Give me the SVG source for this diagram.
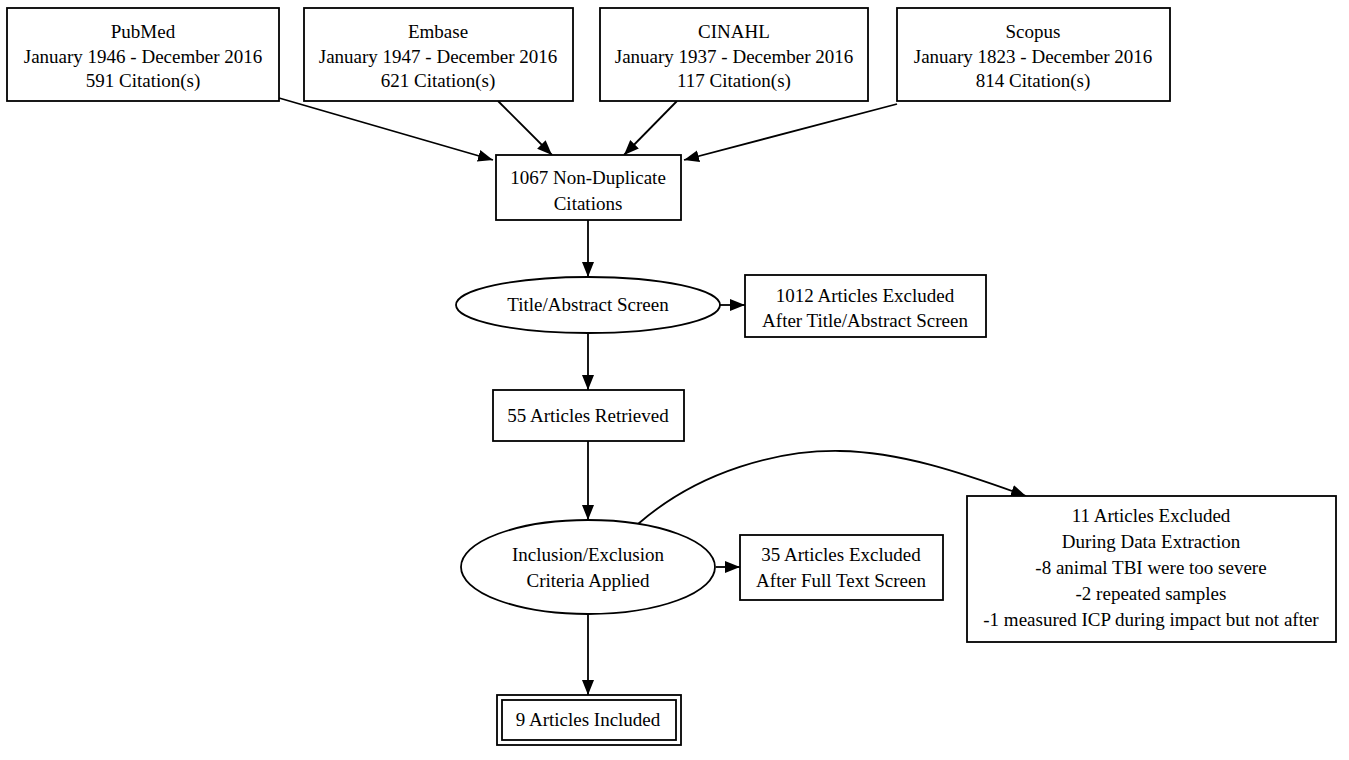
<svg xmlns="http://www.w3.org/2000/svg" width="1349" height="760" viewBox="0 0 1349 760">
<style>
.n{fill:#fff;stroke:#000;stroke-width:1.8}
text{font-family:"Liberation Serif","Times New Roman",serif;font-size:19px;fill:#000;text-anchor:middle}
.e{fill:none;stroke:#000;stroke-width:1.8}
</style>
<defs>
<marker id="a" markerUnits="userSpaceOnUse" markerWidth="16" markerHeight="14" refX="15" refY="6" orient="auto">
<path d="M0,0 L15,6 L0,12 Z" fill="#000"/>
</marker>
</defs>
<rect width="1349" height="760" fill="#fff"/>
<g id="edges">
<path class="e" d="M279,98 L493,160" marker-end="url(#a)"/>
<path class="e" d="M498,101 L552,155" marker-end="url(#a)"/>
<path class="e" d="M677,101 L624,155" marker-end="url(#a)"/>
<path class="e" d="M897,104 L684,160" marker-end="url(#a)"/>
<path class="e" d="M588,220 L588,277" marker-end="url(#a)"/>
<path class="e" d="M720,305 L745,305" marker-end="url(#a)"/>
<path class="e" d="M588,333 L588,390" marker-end="url(#a)"/>
<path class="e" d="M588,441 L588,520" marker-end="url(#a)"/>
<path class="e" d="M716,567 L740,567" marker-end="url(#a)"/>
<path class="e" d="M638,524 C700,470 780,450 840,451 C900,452 960,472 1026,496" marker-end="url(#a)"/>
<path class="e" d="M588,614 L588,695" marker-end="url(#a)"/>
</g>
<g id="pubmed">
<rect class="n" x="7" y="8" width="272" height="93"/>
<text x="143" y="38">PubMed</text>
<text x="143" y="63">January 1946 - December 2016</text>
<text x="143" y="87">591 Citation(s)</text>
</g>
<g id="embase">
<rect class="n" x="304" y="8" width="269" height="93"/>
<text x="438" y="38">Embase</text>
<text x="438" y="63">January 1947 - December 2016</text>
<text x="438" y="87">621 Citation(s)</text>
</g>
<g id="cinahl">
<rect class="n" x="600" y="8" width="268" height="93"/>
<text x="734" y="38">CINAHL</text>
<text x="734" y="63">January 1937 - December 2016</text>
<text x="734" y="87">117 Citation(s)</text>
</g>
<g id="scopus">
<rect class="n" x="897" y="8" width="273" height="93"/>
<text x="1033" y="38">Scopus</text>
<text x="1033" y="63">January 1823 - December 2016</text>
<text x="1033" y="87">814 Citation(s)</text>
</g>
<g id="nondup">
<rect class="n" x="496" y="155" width="185" height="65"/>
<text x="588" y="184">1067 Non-Duplicate</text>
<text x="588" y="210">Citations</text>
</g>
<g id="titleabs">
<ellipse class="n" cx="588" cy="305" rx="132" ry="28"/>
<text x="588" y="311">Title/Abstract Screen</text>
</g>
<g id="excl1012">
<rect class="n" x="745" y="275" width="241" height="62"/>
<text x="865" y="302">1012 Articles Excluded</text>
<text x="865" y="327">After Title/Abstract Screen</text>
</g>
<g id="retrieved">
<rect class="n" x="493" y="390" width="191" height="51"/>
<text x="588" y="422">55 Articles Retrieved</text>
</g>
<g id="criteria">
<ellipse class="n" cx="588" cy="567" rx="127" ry="47"/>
<text x="588" y="561">Inclusion/Exclusion</text>
<text x="588" y="587">Criteria Applied</text>
</g>
<g id="excl35">
<rect class="n" x="740" y="535" width="203" height="65"/>
<text x="841" y="561">35 Articles Excluded</text>
<text x="841" y="587">After Full Text Screen</text>
</g>
<g id="excl11">
<rect class="n" x="967" y="496" width="369" height="146"/>
<text x="1151" y="522">11 Articles Excluded</text>
<text x="1151" y="548">During Data Extraction</text>
<text x="1151" y="574">-8 animal TBI were too severe</text>
<text x="1151" y="600">-2 repeated samples</text>
<text x="1151" y="626">-1 measured ICP during impact but not after</text>
</g>
<g id="included">
<rect class="n" x="497" y="695" width="184" height="50"/>
<rect class="n" x="502" y="700" width="174" height="40"/>
<text x="588" y="726">9 Articles Included</text>
</g>
</svg>
